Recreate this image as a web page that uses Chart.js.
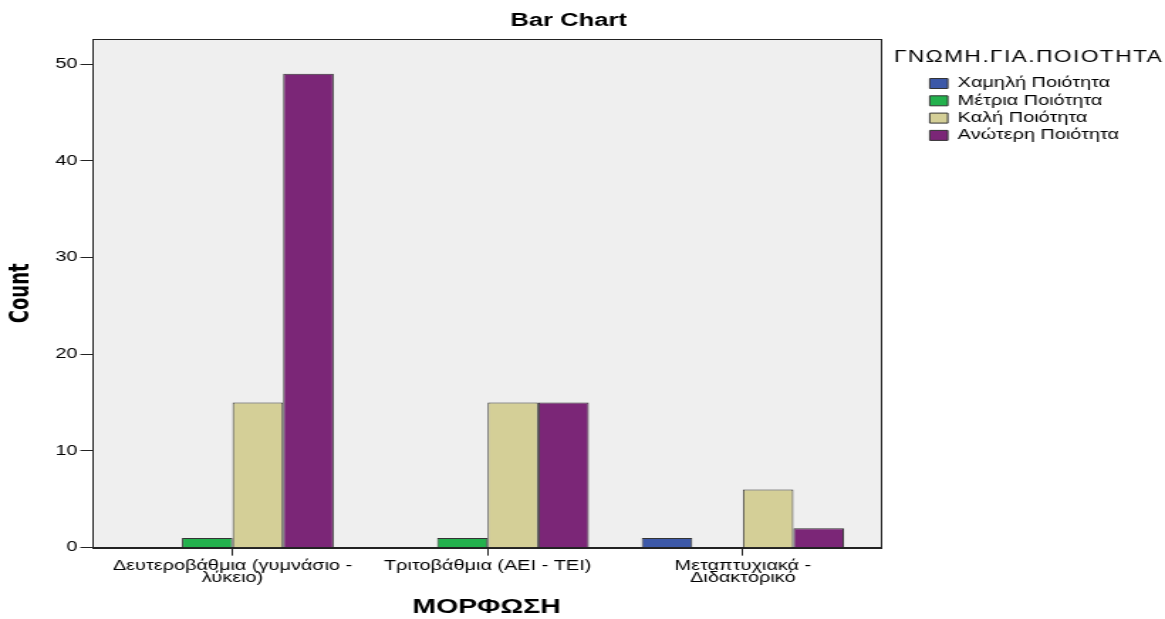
<!DOCTYPE html>
<html>
<head>
<meta charset="utf-8">
<script src="https://cdn.jsdelivr.net/npm/chart.js@4.4.1/dist/chart.umd.min.js"></script>
<style>
  html, body { margin: 0; padding: 0; background: #fff; }
  #wrap { width: 1165px; height: 619px; }
</style>
</head>
<body>
<!-- the reference picture is stretched sideways, so the canvas is drawn narrower and widened by css -->
<div id="wrap"><canvas id="bar-chart" width="820" height="619" style="width:1165px;height:619px"></canvas></div>
<script>
'use strict';

// categories (education level)
var categories = [
  ['Δευτεροβάθμια (γυμνάσιο -', 'λύκειο)'],
  ['Τριτοβάθμια (ΑΕΙ - ΤΕΙ)'],
  ['Μεταπτυχιακά -', 'Διδακτορικό']
];
var legendTitle = 'ΓΝΩΜΗ.ΓΙΑ.ΠΟΙΟΤΗΤΑ';
var seriesNames = ['Χαμηλή Ποιότητα', 'Μέτρια Ποιότητα', 'Καλή Ποιότητα', 'Ανώτερη Ποιότητα'];
var lowQuality = [0, 0, 1];
var midQuality = [1, 1, 0];
var goodQuality = [15, 15, 6];
var topQuality = [49, 15, 2];
var yTicks = [0, 10, 20, 30, 40, 50];

var colors = ['#3C58A8', '#23B14D', '#D4CF97', '#7B2677'];
var fontName = '"Liberation Sans", Arial, sans-serif';

var legendPad = 3.3, legendBoxW = 12.7, legendFont = 14;

// legend width, so the right padding puts the legend where it should sit
var mctx = document.createElement('canvas').getContext('2d');
mctx.font = legendFont + 'px ' + fontName;
var textW = 0;
seriesNames.forEach(function (s) { textW = Math.max(textW, mctx.measureText(s).width); });
var legendW = 2 * legendPad + legendBoxW + legendFont / 2 + textW + 7;
var padRight = Math.max(0, 820 - 650.8 - legendW);

// grey plot background + box around it, and the legend heading
var plotFrame = {
  id: 'plotFrame',
  beforeDraw: function (chart) {
    var a = chart.chartArea, ctx = chart.ctx;
    ctx.save();
    ctx.fillStyle = '#EFEFEF';
    ctx.fillRect(a.left, a.top, a.right - a.left, a.bottom - a.top);
    ctx.restore();
  },
  afterDraw: function (chart) {
    var a = chart.chartArea, ctx = chart.ctx;
    ctx.save();
    ctx.strokeStyle = '#222';
    ctx.lineWidth = 1;
    ctx.strokeRect(Math.round(a.left) + 0.5, Math.round(a.top) + 0.5, Math.round(a.right - a.left), Math.round(a.bottom - a.top));
    // legend heading sits a bit left of the legend items
    ctx.fillStyle = '#000';
    ctx.font = '16px ' + fontName;
    ctx.letterSpacing = '1px';
    ctx.textAlign = 'left';
    ctx.textBaseline = 'middle';
    ctx.fillText(legendTitle, a.right + 9.2, 57.5);
    ctx.restore();
  }
};

// categories sit at x = 0, 1, 2 on a linear axis, so the side margins can match the picture
var datasets = [lowQuality, midQuality, goodQuality, topQuality].map(function (d, i) {
  return {
    label: seriesNames[i],
    data: d.map(function (v, k) { return { x: k, y: v }; }),
    backgroundColor: colors[i],
    borderColor: '#333',
    borderWidth: 1,
    categoryPercentage: 0.793,
    barPercentage: 1
  };
});

var ctx = document.getElementById('bar-chart').getContext('2d');
var chart = new Chart(ctx, {
  type: 'bar',
  data: {
    datasets: datasets
  },
  plugins: [plotFrame],
  options: {
    responsive: false,
    animation: false,
    layout: { padding: { left: 3, right: padRight, top: 0, bottom: 0 } },
    plugins: {
      title: {
        display: true,
        text: 'Bar Chart',
        color: '#000',
        font: { family: fontName, size: 18, weight: 'bold' },
        padding: { top: 10, bottom: 7.4 }
      },
      legend: {
        position: 'right',
        align: 'start',
        maxWidth: 220,
        // empty title only keeps room above the items, the text is drawn by plotFrame
        title: {
          display: true,
          text: ' ',
          font: { family: fontName, size: 16 },
          padding: { top: 54, bottom: 0 }
        },
        labels: {
          color: '#000',
          font: { family: fontName, size: legendFont },
          boxWidth: legendBoxW,
          boxHeight: 10,
          padding: legendPad
        }
      },
      tooltip: { enabled: false }
    },
    scales: {
      x: {
        type: 'linear',
        offset: false,
        min: -0.549,
        max: 2.541,
        afterBuildTicks: function (scale) {
          scale.ticks = categories.map(function (c, k) { return { value: k }; });
        },
        grid: { display: true, offset: false, drawOnChartArea: false, color: '#222', tickLength: 8 },
        border: { color: '#222' },
        ticks: {
          color: '#000',
          font: { family: fontName, size: 14, lineHeight: 0.87 },
          maxRotation: 0,
          autoSkip: false,
          padding: 4,
          callback: function (value) { return categories[value]; }
        },
        title: {
          display: true,
          text: 'ΜΟΡΦΩΣΗ',
          color: '#000',
          font: { family: fontName, size: 20, weight: 'bold' },
          padding: { top: 7, bottom: 0 }
        }
      },
      y: {
        min: 0,
        max: 52.6,
        afterBuildTicks: function (scale) {
          scale.ticks = yTicks.map(function (v) { return { value: v }; });
        },
        grid: { display: true, drawOnChartArea: false, color: '#222', tickLength: 8.5 },
        border: { color: '#222' },
        ticks: {
          color: '#000',
          font: { family: fontName, size: 14 },
          padding: 2
        },
        title: {
          display: true,
          text: 'Count',
          color: '#000',
          font: { family: '"Liberation Sans Narrow", "DejaVu Sans Condensed", sans-serif', size: 20, weight: 'bold' },
          padding: { top: 0, bottom: 10 }
        }
      },
      // empty axis on the right, only keeps a gap between the plot box and the legend
      gap: {
        axis: 'y',
        position: 'right',
        display: true,
        grid: { display: false },
        border: { display: false },
        ticks: { display: false },
        afterFit: function (scale) { scale.width = 31.1; }
      }
    }
  }
});
</script>
</body>
</html>
